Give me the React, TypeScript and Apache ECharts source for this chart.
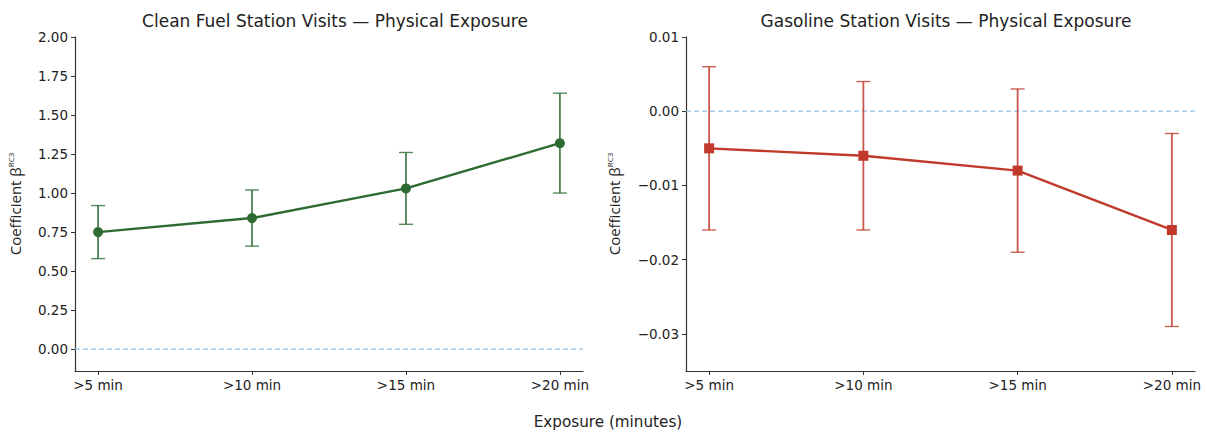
import React, { useEffect, useRef } from "react";
import * as echarts from "echarts";

const categories = [">5 min", ">10 min", ">15 min", ">20 min"];

const cleanTitle = "Clean Fuel Station Visits — Physical Exposure";
const cleanCoef = [0.75, 0.84, 1.03, 1.32];
const cleanLow = [0.58, 0.66, 0.8, 1.0];
const cleanHigh = [0.92, 1.02, 1.26, 1.64];
const cleanTicks = [0, 0.25, 0.5, 0.75, 1.0, 1.25, 1.5, 1.75, 2.0];

const gasTitle = "Gasoline Station Visits — Physical Exposure";
const gasCoef = [-0.005, -0.006, -0.008, -0.016];
const gasLow = [-0.016, -0.016, -0.019, -0.029];
const gasHigh = [0.006, 0.004, 0.003, -0.003];
const gasTicks = [-0.03, -0.02, -0.01, 0, 0.01];

const xLabel = "Exposure (minutes)";

const GREEN = "#2e6b33";
const RED = "#c0392b";
const ZERO = "#93c3e6";
const FONT = "DejaVu Sans";

function fmtClean(v: number) {
  return v.toFixed(2);
}
function fmtGas(v: number) {
  const s = Math.abs(v).toFixed(2);
  return v < -1e-9 ? "\u2212" + s : s;
}

function errorSeries(gi: number, low: number[], high: number[], color: string) {
  return {
    type: "custom",
    xAxisIndex: gi,
    yAxisIndex: gi,
    z: 3,
    data: low.map((l, i) => [i, l, high[i]]),
    renderItem: (params: any, api: any) => {
      const x = api.value(0);
      const lo = api.coord([x, api.value(1)]);
      const hi = api.coord([x, api.value(2)]);
      const w = 7;
      const style = { stroke: color, lineWidth: 1.8, opacity: 0.85 };
      const capStyle = { stroke: color, lineWidth: 1.4, opacity: 0.8 };
      return {
        type: "group",
        children: [
          { type: "line", shape: { x1: lo[0], y1: lo[1], x2: hi[0], y2: hi[1] }, style },
          { type: "line", shape: { x1: lo[0] - w, y1: lo[1], x2: lo[0] + w, y2: lo[1] }, style: capStyle },
          { type: "line", shape: { x1: hi[0] - w, y1: hi[1], x2: hi[0] + w, y2: hi[1] }, style: capStyle },
        ],
      };
    },
  };
}

function zeroSeries(gi: number) {
  return {
    type: "line",
    xAxisIndex: gi,
    yAxisIndex: gi,
    z: 1,
    silent: true,
    symbol: "none",
    data: [[-0.15, 0], [3.15, 0]],
    lineStyle: { type: [5, 3], color: ZERO, width: 1.3 },
  };
}

export default function App() {
  const ref = useRef<HTMLDivElement>(null);
  useEffect(() => {
    if (!ref.current) return;
    const chart = echarts.init(ref.current, null, { renderer: "svg" });
    const axisLine = { show: true, lineStyle: { color: "#333", width: 1.2 } };
    const tickStyle = { show: true, length: 4, inside: false, lineStyle: { color: "#333", width: 1 } };
    const xAxisCommon = (gi: number) => ({
      type: "value",
      gridIndex: gi,
      min: -0.15,
      max: 3.15,
      axisLine: { ...axisLine, onZero: false },
      axisTick: { ...tickStyle, customValues: [0, 1, 2, 3] },
      axisLabel: {
        customValues: [0, 1, 2, 3],
        formatter: (v: number) => categories[Math.round(v)],
        color: "#222",
        fontFamily: FONT,
        fontSize: 13.5,
        margin: 7,
      },
      splitLine: { show: false },
    });
    const yName = "{a|Coefficient β}{s|RC3}";
    const nameStyle = {
      fontFamily: "Open Sans",
      fontSize: 15,
      color: "#222",
      rich: {
        a: { fontFamily: "Open Sans", fontSize: 15, color: "#222", lineHeight: 18 },
        s: { fontFamily: "Open Sans", fontSize: 8, color: "#222", verticalAlign: "top", lineHeight: 18 },
      },
    };
    chart.setOption({
      animation: false,
      backgroundColor: "#fff",
      title: [
        { text: cleanTitle, left: 330, top: 7, textAlign: "center", textStyle: { fontFamily: FONT, fontSize: 17, fontWeight: "normal", color: "#222" } },
        { text: gasTitle, left: 941, top: 7, textAlign: "center", textStyle: { fontFamily: FONT, fontSize: 17, fontWeight: "normal", color: "#222" } },
        { text: xLabel, left: 603, top: 409, textAlign: "center", textStyle: { fontFamily: FONT, fontSize: 15.2, fontWeight: "normal", color: "#222" } },
      ],
      grid: [
        { left: 75, top: 37, width: 508, height: 334 },
        { left: 686, top: 37, width: 509, height: 334 },
      ],
      xAxis: [xAxisCommon(0), xAxisCommon(1)],
      yAxis: [
        {
          type: "value",
          gridIndex: 0,
          min: -0.14,
          max: 2.0,
          axisLine: { ...axisLine, onZero: false },
          axisTick: { ...tickStyle, customValues: cleanTicks },
          axisLabel: { customValues: cleanTicks, formatter: fmtClean, color: "#222", fontFamily: FONT, fontSize: 13.5, margin: 7 },
          splitLine: { show: false },
          name: yName,
          nameLocation: "middle",
          nameGap: 51,
          nameRotate: 90,
          nameTextStyle: nameStyle,
        },
        {
          type: "value",
          gridIndex: 1,
          min: -0.035,
          max: 0.01,
          axisLine: { ...axisLine, onZero: false },
          axisTick: { ...tickStyle, customValues: gasTicks },
          axisLabel: { customValues: gasTicks, formatter: fmtGas, color: "#222", fontFamily: FONT, fontSize: 13.5, margin: 7 },
          splitLine: { show: false },
          name: yName,
          nameLocation: "middle",
          nameGap: 63,
          nameRotate: 90,
          nameTextStyle: nameStyle,
        },
      ],
      series: [
        zeroSeries(0),
        zeroSeries(1),
        errorSeries(0, cleanLow, cleanHigh, GREEN),
        {
          type: "line",
          xAxisIndex: 0,
          yAxisIndex: 0,
          z: 4,
          data: cleanCoef.map((v, i) => [i, v]),
          symbol: "circle",
          symbolSize: 10,
          itemStyle: { color: GREEN },
          lineStyle: { color: GREEN, width: 2.4 },
        },
        errorSeries(1, gasLow, gasHigh, RED),
        {
          type: "line",
          xAxisIndex: 1,
          yAxisIndex: 1,
          z: 4,
          data: gasCoef.map((v, i) => [i, v]),
          symbol: "rect",
          symbolSize: 10,
          itemStyle: { color: RED },
          lineStyle: { color: RED, width: 2.4 },
        },
      ],
    });
    return () => chart.dispose();
  }, []);
  return (
    <div
      ref={ref}
      style={{ position: "absolute", left: 0, top: 0, width: 1207, height: 432 }}
    />
  );
}
